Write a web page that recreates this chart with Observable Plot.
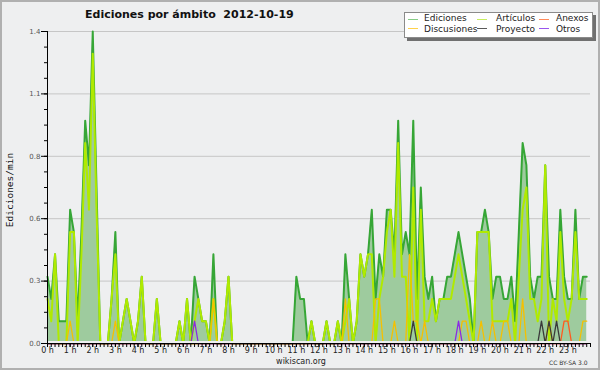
<!DOCTYPE html>
<html><head><meta charset="utf-8">
<script src="https://cdn.jsdelivr.net/npm/d3@7"></script>
<script src="https://cdn.jsdelivr.net/npm/@observablehq/plot@0.6"></script>
<style>
html,body{margin:0;padding:0;background:#eeeff0;}
#wrap{position:relative;width:600px;height:370px;overflow:hidden;background:#eeeff0;font-family:"DejaVu Sans";}
#chart svg{position:absolute;left:0;top:0;}
.t{position:absolute;white-space:nowrap;line-height:1;color:#111;}
.ln{position:absolute;height:1px;width:10px;}
#frame{position:absolute;left:0;top:0;width:600px;height:370px;box-sizing:border-box;border:2px solid #b0b0b0;pointer-events:none;}
</style></head><body>
<div id="wrap">
  <div id="chart"></div>
  <div class="t" style="left:85px;top:9px;font-size:11px;font-weight:bold;">Ediciones por ámbito&nbsp;&nbsp;2012-10-19</div>
  <div style="position:absolute;left:404px;top:12px;width:189px;height:26px;box-sizing:border-box;background:#fff;border:1px solid #8a8a8a;box-shadow:3px 3px 0 #707070;"></div>
  <div id="legend"></div>
  <div class="t" style="left:10px;top:190px;font-family:'DejaVu Sans Mono';font-size:9.5px;transform:translate(-50%,-50%) rotate(-90deg);">Ediciones/min</div>
  <div class="t" style="left:301px;top:358px;font-size:8px;transform:translateX(-50%);color:#222;">wikiscan.org</div>
  <div class="t" style="left:549px;top:360px;font-size:6px;color:#333;">CC BY-SA 3.0</div>
  <div id="frame"></div>
</div>
<script>
// Edits per minute, 10-minute slots from 00:00 to 23:50
const ediciones = [
  0.3,0.2,0.4,0.1,0.1,0.1,0.6,0.5,0.1,0.5,1.0,0.8,
  1.4,0.7,0,0,0,0.2,0.5,0,0.1,0.2,0.1,0,
  0.1,0.3,0,0,0,0.2,0,0,0,0,0,0.1,
  0,0.2,0,0.3,0.2,0.1,0.1,0,0.4,0,0,0.1,
  0.3,0,0,0,0,0,0,0,0,0,0,0,
  0,0,0,0,0,0,0.3,0.2,0.2,0,0.1,0,
  0,0,0.1,0,0,0.1,0,0.4,0.2,0,0.1,0.4,
  0.3,0.4,0.6,0.2,0.4,0.3,0.6,0.6,0.4,1.0,0.4,0.5,
  0.4,1.0,0.2,0.7,0.3,0.2,0.3,0.1,0.2,0.2,0.3,0.3,
  0.4,0.5,0.4,0.3,0.2,0,0.5,0.5,0.6,0.5,0.2,0.3,
  0.3,0.2,0.2,0.3,0.1,0.5,0.9,0.8,0.3,0.2,0.3,0.3,
  0.8,0.3,0.2,0.2,0.6,0.3,0.2,0.2,0.6,0.2,0.3,0.3
];
const articulos = [
  0.2,0.1,0.4,0,0,0,0.5,0.5,0,0.4,0.9,0.6,
  1.3,0.6,0,0,0,0.2,0.4,0,0.1,0.2,0.1,0,
  0.1,0.3,0,0,0,0.2,0,0,0,0,0,0.1,
  0,0.2,0,0.1,0.2,0.1,0.1,0,0.2,0,0,0.1,
  0.3,0,0,0,0,0,0,0,0,0,0,0,
  0,0,0,0,0,0,0,0,0,0,0.1,0,
  0,0,0.1,0,0,0.1,0,0.1,0.2,0,0.1,0.4,
  0.3,0.4,0.4,0,0.2,0.3,0.5,0.6,0.3,0.9,0.3,0.3,
  0,0.7,0,0.6,0.1,0.1,0.2,0.1,0.2,0.2,0.2,0.2,
  0.3,0.4,0.3,0.2,0.1,0,0.5,0.5,0.5,0.5,0.1,0.1,
  0.1,0.1,0.1,0.2,0,0.3,0.6,0.7,0.2,0.2,0.1,0.2,
  0.8,0,0.2,0.1,0.5,0.2,0.1,0.2,0.5,0.2,0.2,0.2
];
const discusiones = [
  0,0,0,0,0,0,0.1,0,0,0,0,0,
  0,0,0,0,0,0,0.1,0,0,0,0,0,
  0,0,0,0,0,0,0,0,0,0,0,0,
  0,0,0,0,0,0,0,0,0.2,0,0,0,
  0,0,0,0,0,0,0,0,0,0,0,0,
  0,0,0,0,0,0,0,0,0,0,0,0,
  0,0,0,0,0,0,0,0.2,0,0,0,0,
  0,0,0,0.2,0.2,0,0,0,0.1,0,0,0,
  0.4,0.1,0.1,0,0.1,0,0,0,0,0,0,0,
  0,0,0.1,0.1,0,0,0,0.1,0,0,0.1,0,
  0,0.1,0.1,0,0,0,0.2,0,0,0,0,0,
  0,0.1,0,0,0,0,0,0,0,0,0.1,0.1
];
const anexos = [
  0,0,0,0,0,0,0,0,0,0,0,0, 0,0,0,0,0,0,0,0,0,0,0,0,
  0,0,0,0,0,0,0,0,0,0,0,0, 0,0,0,0,0,0,0,0,0,0,0,0,
  0,0,0,0,0,0,0,0,0,0,0,0, 0,0,0,0,0,0,0,0,0,0,0,0,
  0,0,0,0,0,0,0,0,0,0,0,0, 0,0,0,0,0,0,0,0,0,0,0,0,
  0,0,0,0,0,0,0,0,0,0,0,0, 0,0,0,0,0,0,0,0,0,0,0,0,
  0,0,0,0,0,0,0,0,0,0,0,0, 0,0,0,0,0,0.1,0.1,0,0,0,0,0
];
const proyecto = [
  0,0,0,0,0,0,0,0,0,0,0,0, 0,0,0,0,0,0,0,0,0,0,0,0,
  0,0,0,0,0,0,0,0,0,0,0,0, 0,0,0,0,0,0,0,0,0,0,0,0,
  0,0,0,0,0,0,0,0,0,0,0,0, 0,0,0,0,0,0,0,0,0,0,0,0,
  0,0,0,0,0,0,0,0,0,0,0,0, 0,0,0,0,0,0,0,0,0,0,0,0,
  0,0.1,0,0,0,0,0,0,0,0,0,0, 0,0,0,0,0,0,0,0,0,0,0,0,
  0,0,0,0,0,0,0,0,0,0,0,0.1, 0,0.1,0,0.1,0,0,0,0,0,0,0,0
];
const otros = [
  0,0,0,0,0,0,0,0,0,0,0,0, 0,0,0,0,0,0,0,0,0,0,0,0,
  0,0,0,0,0,0,0,0,0,0,0,0, 0,0,0,0.1,0,0,0,0,0,0,0,0,
  0,0,0,0,0,0,0,0,0,0,0,0, 0,0,0,0,0,0,0,0,0,0,0,0,
  0,0,0,0,0,0,0,0,0,0,0,0, 0,0,0,0,0,0,0,0,0,0,0,0,
  0,0,0,0,0,0,0,0,0,0,0,0, 0,0.1,0,0,0,0,0,0,0,0,0,0,
  0,0,0,0,0,0,0,0,0,0,0,0, 0,0,0,0,0,0,0,0,0,0,0,0
];
const yTicks = [0, 0.28, 0.56, 0.84, 1.12, 1.4];
const yLabels = ["0.0", "0.3", "0.6", "0.8", "1.1", "1.4"];
const hourTicks = [0,1,2,3,4,5,6,7,8,9,10,11,12,13,14,15,16,17,18,19,20,21,22,23];
const hourLabels = hourTicks.map(h => h + " h");

const seriesNames = ["Ediciones", "Artículos", "Anexos", "Discusiones", "Proyecto", "Otros"];
const legendColors = ["#86cc86", "#c8ee60", "#ff8a5a", "#ffd24a", "#5a5a5a", "#9a55ee"];
const lineColors = {ed: "#36a636", art: "#b0ea00", anx: "#ff5a1e", disc: "#f5c000", proy: "#3a3a3a", otros: "#8a2be2"};

const table = ediciones.map((v, i) => ({
  h: i / 6, ed: v, art: articulos[i], disc: discusiones[i],
  anx: anexos[i], proy: proyecto[i], otros: otros[i]
}));

const yLab = new Map(yTicks.map((v, i) => [v, yLabels[i]]));
const hLab = new Map(hourTicks.map((v, i) => [v, hourLabels[i]]));
const yMinor = d3.range(0, 1.4001, 0.07);
const xMinor = d3.range(0, 24.001, 1 / 6);

const chart = Plot.plot({
  width: 600, height: 370,
  marginLeft: 47, marginRight: 10, marginTop: 31, marginBottom: 27,
  style: {background: "transparent", fontFamily: "DejaVu Sans", fontSize: "8px", color: "#111"},
  x: {domain: [0, 24], axis: null},
  y: {domain: [0, 1.4], axis: null},
  marks: [
    Plot.gridY(yTicks, {stroke: "#c6c6c6", strokeOpacity: 1}),
    Plot.areaY(table, {x: "h", y: "ed", fill: "#9ecb9e"}),
    Plot.lineY(table, {x: "h", y: "ed", stroke: lineColors.ed, strokeWidth: 2}),
    Plot.lineY(table, {x: "h", y: "art", stroke: lineColors.art, strokeWidth: 2}),
    Plot.lineY(table, {x: "h", y: "anx", stroke: lineColors.anx, strokeWidth: 1.3}),
    Plot.lineY(table, {x: "h", y: "disc", stroke: lineColors.disc, strokeWidth: 1.3}),
    Plot.lineY(table, {x: "h", y: "proy", stroke: lineColors.proy, strokeWidth: 1.3}),
    Plot.lineY(table, {x: "h", y: "otros", stroke: lineColors.otros, strokeWidth: 1.3}),
    // hide zero-level line strokes sitting on the baseline
    Plot.ruleY([0], {stroke: "#eeeff0", strokeWidth: 2.5, dy: -1.25}),
    Plot.axisY(yMinor, {tickSize: 3, tickFormat: () => "", label: null, stroke: "#000"}),
    Plot.axisY(yTicks, {tickSize: 6, tickPadding: 1, tickFormat: d => yLab.get(d), label: null, fontSize: 7, fill: "#555", stroke: "#000"}),
    Plot.axisX(xMinor, {tickSize: 4, tickFormat: () => "", label: null, stroke: "#000"}),
    Plot.axisX(hourTicks, {tickSize: 4, tickPadding: 0, tickFormat: d => hLab.get(d), label: null, fontSize: 8, fill: "#222", stroke: "#000"}),
    Plot.ruleX([0], {stroke: "#000"}),
    Plot.ruleY([0], {stroke: "#000"})
  ]
});
document.getElementById("chart").appendChild(chart);

// legend: 3 columns x 2 rows
const legend = document.getElementById("legend");
const lineX = [408, 477, 539], textX = [424, 496, 556];
const lineY = [18.5, 28], textTop = [14, 24.5];
seriesNames.forEach((name, i) => {
  const col = i % 3, row = Math.floor(i / 3);
  const l = document.createElement("div");
  l.className = "ln";
  l.style.left = lineX[col] + "px"; l.style.top = lineY[row] + "px"; l.style.background = legendColors[i];
  legend.appendChild(l);
  const t = document.createElement("div");
  t.className = "t";
  t.style.left = textX[col] + "px"; t.style.top = textTop[row] + "px"; t.style.fontSize = "9px"; t.style.color = "#222";
  t.textContent = name;
  legend.appendChild(t);
});
</script>
</body></html>
